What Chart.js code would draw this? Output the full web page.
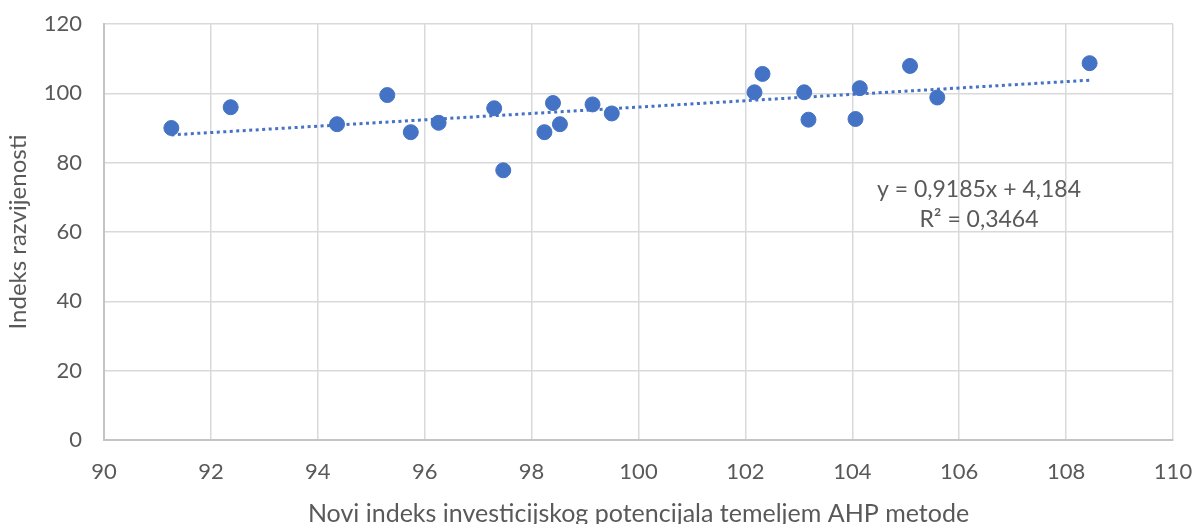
<!DOCTYPE html>
<html>
<head>
<meta charset="utf-8">
<script src="https://cdn.jsdelivr.net/npm/chart.js@4/dist/chart.umd.min.js"></script>
<style>
  html, body { margin: 0; padding: 0; background: #ffffff; }
  #wrap { width: 1194px; height: 524px; }
</style>
</head>
<body>
<div id="wrap"><canvas id="scatter"></canvas></div>
<script>
// values
const investIndex = [91.26, 92.37, 94.36, 95.30, 95.74, 96.26, 97.30, 97.47, 98.24, 98.40, 98.53,
                     99.14, 99.50, 102.17, 102.32, 103.10, 103.18, 104.06, 104.14, 105.08, 105.59, 108.44];
const devIndex    = [90.0, 96.0, 91.1, 99.5, 88.8, 91.5, 95.7, 77.8, 88.8, 97.2, 91.1,
                     96.8, 94.2, 100.3, 105.6, 100.3, 92.4, 92.6, 101.5, 107.9, 98.8, 108.7];

const xTicks = [90, 92, 94, 96, 98, 100, 102, 104, 106, 108, 110];
const yTicks = [0, 20, 40, 60, 80, 100, 120];

// linear trendline as printed on the chart
const slope = 0.9185;
const intercept = 4.184;
const eqLabel = 'y = 0,9185x + 4,184';
const r2Label = 'R² = 0,3464';

const xTitle = 'Novi indeks investicijskog potencijala temeljem AHP metode';
const yTitle = 'Indeks razvijenosti';

const blue = '#4472C4';
const textGrey = '#595959';
const gridGrey = '#d9d9d9';
const FONT = 'Lato, "Open Sans", sans-serif';

let points = investIndex.map((x, i) => ({ x: x, y: devIndex[i] }));
let xMin = Math.min(...investIndex), xMax = Math.max(...investIndex);
let trend = [
    { x: xMin, y: slope * xMin + intercept },
    { x: xMax, y: slope * xMax + intercept }
];

// equation text, placed in data units inside the plot
const eqPlugin = {
    id: 'eqText',
    afterDatasetsDraw(chart) {
        const ctx = chart.ctx;
        const xs = chart.scales.x, ys = chart.scales.y;
        const cx = xs.getPixelForValue(106.37);
        const cy = ys.getPixelForValue(72.1);
        ctx.save();
        ctx.fillStyle = textGrey;
        ctx.font = '23px ' + FONT;
        ctx.textAlign = 'center';
        ctx.textBaseline = 'middle';
        ctx.fillText(eqLabel, cx, cy);
        ctx.fillText(r2Label, cx, cy + 30);
        ctx.restore();
    }
};

let ctx = document.getElementById('scatter').getContext('2d');
let chart = new Chart(ctx, {
    type: 'scatter',
    data: {
        datasets: [
            {
                label: 'Indeks',
                data: points,
                backgroundColor: blue,
                borderColor: blue,
                pointRadius: 7.5,
                pointHoverRadius: 7.5,
                order: 1
            },
            {
                label: 'Trend',
                type: 'line',
                data: trend,
                borderColor: blue,
                borderWidth: 3,
                borderDash: [3, 3.5],
                pointRadius: 0,
                fill: false,
                order: 2
            }
        ]
    },
    options: {
        responsive: true,
        maintainAspectRatio: false,
        animation: false,
        layout: { padding: { top: 24, right: 21, bottom: 0, left: 0 } },
        plugins: {
            legend: { display: false },
            tooltip: { enabled: false }
        },
        scales: {
            x: {
                type: 'linear',
                min: 90,
                max: 110,
                afterBuildTicks: (s) => { s.ticks = xTicks.map(v => ({ value: v })); },
                afterFit: (s) => { s.height = 84; s.paddingLeft = 0; s.paddingRight = 0; },
                grid: { color: gridGrey, lineWidth: 1.5, drawTicks: false },
                border: { color: '#c4c4c4', width: 2 },
                ticks: { color: textGrey, padding: 19, font: { family: FONT, size: 22 } },
                title: {
                    display: true,
                    text: xTitle,
                    color: textGrey,
                    padding: { top: 0, bottom: -5 },
                    font: { family: FONT, size: 25 }
                }
            },
            y: {
                min: 0,
                max: 120,
                afterBuildTicks: (s) => { s.ticks = yTicks.map(v => ({ value: v })); },
                afterFit: (s) => { s.width = 104; s.paddingTop = 0; s.paddingBottom = 0; },
                grid: { color: gridGrey, lineWidth: 1.5, drawTicks: false },
                border: { color: '#c4c4c4', width: 2 },
                ticks: { color: textGrey, padding: 22, font: { family: FONT, size: 22 } },
                title: {
                    display: true,
                    text: yTitle,
                    color: textGrey,
                    padding: { top: 4, bottom: 0 },
                    font: { family: FONT, size: 24 }
                }
            }
        }
    },
    plugins: [eqPlugin]
});
</script>
</body>
</html>
